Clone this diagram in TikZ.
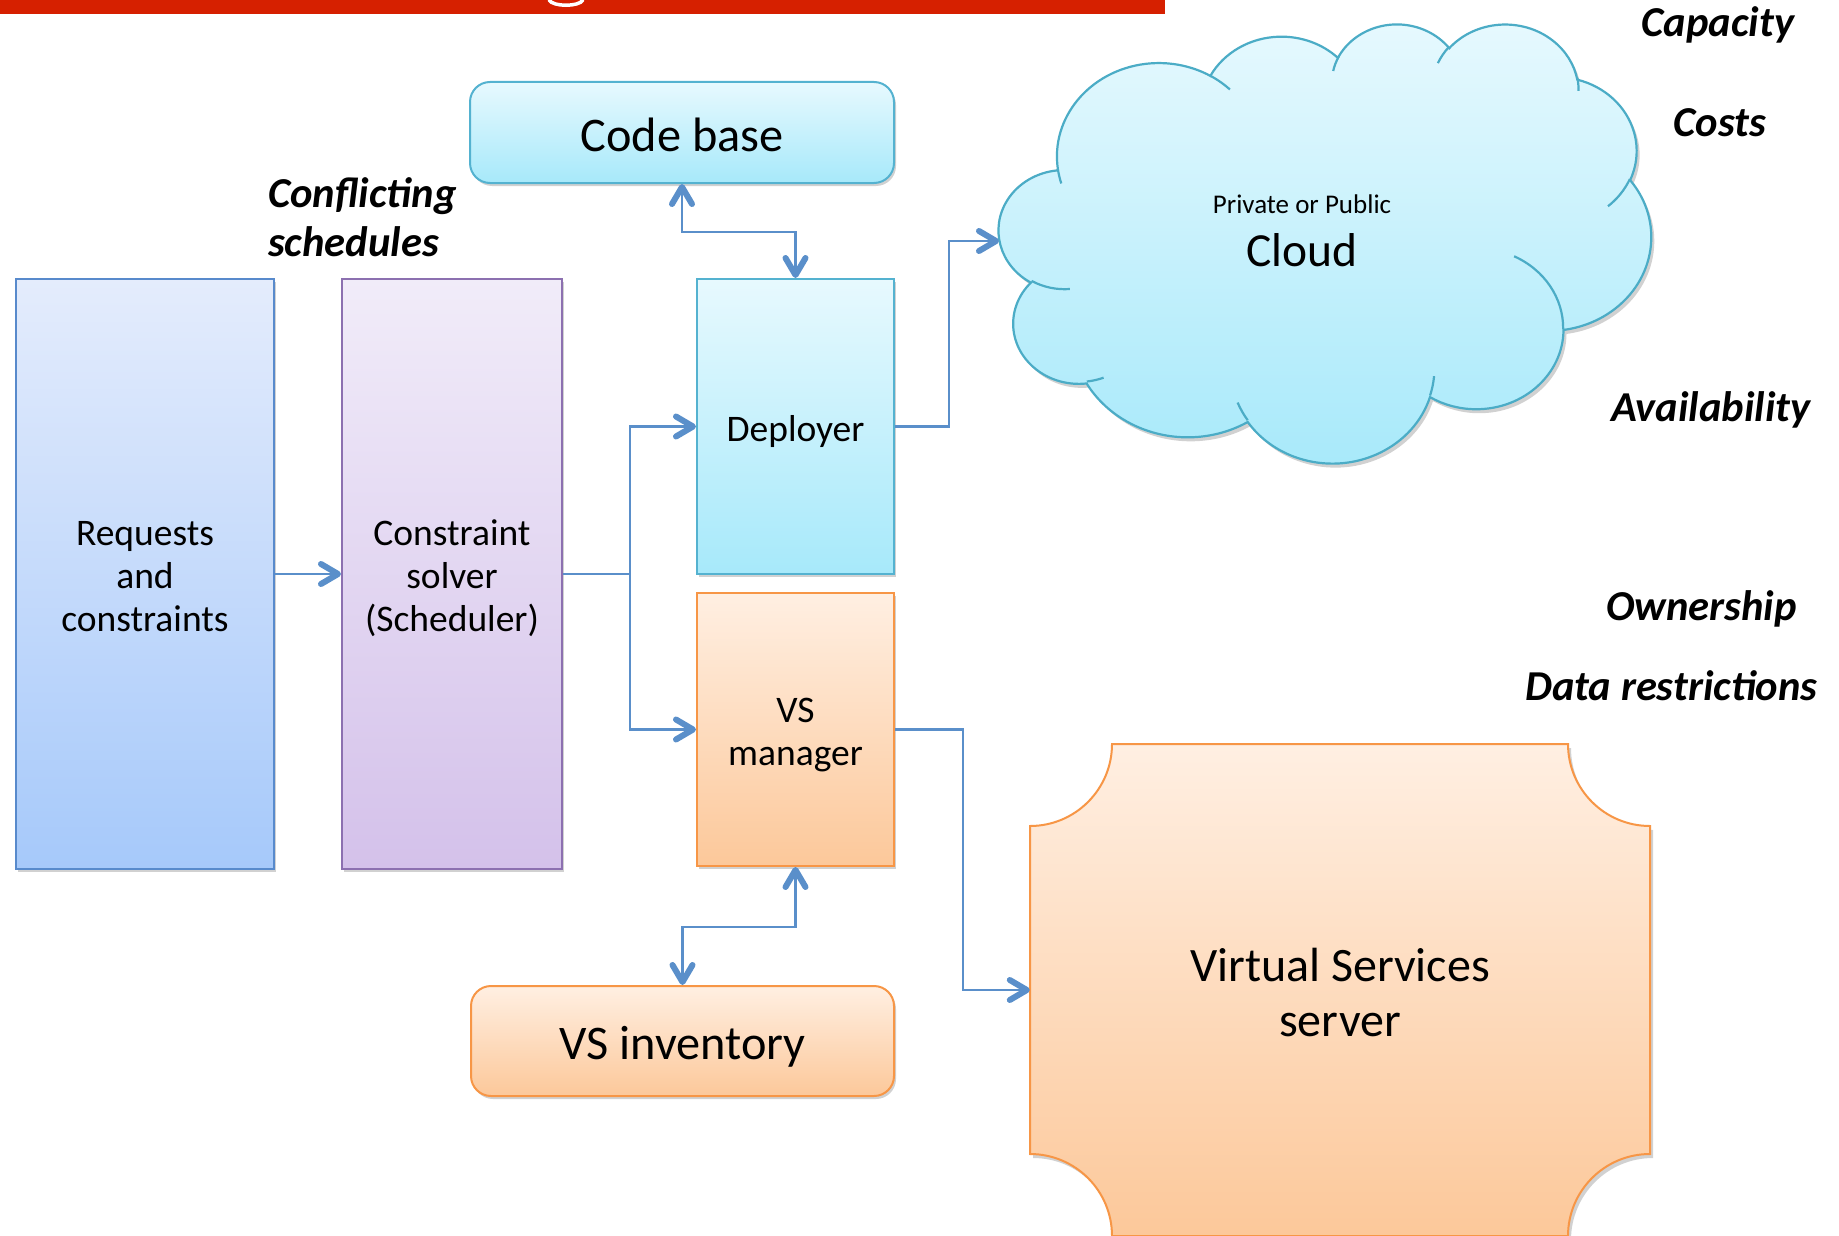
\documentclass[tikz,border=0pt]{standalone}
\usepackage{fontspec}
\setmainfont{Carlito}
\usetikzlibrary{arrows.meta,shadows}
\definecolor{redbar}{RGB}{214,32,0}
\definecolor{arrowc}{RGB}{90,143,202}
\definecolor{blueT}{RGB}{228,236,252}
\definecolor{blueB}{RGB}{166,201,250}
\definecolor{blueD}{RGB}{88,138,204}
\definecolor{purT}{RGB}{241,236,249}
\definecolor{purB}{RGB}{212,193,234}
\definecolor{purD}{RGB}{140,112,176}
\definecolor{aquaT}{RGB}{231,249,254}
\definecolor{aquaB}{RGB}{167,233,250}
\definecolor{aquaD}{RGB}{84,178,208}
\definecolor{cloudD}{RGB}{75,172,198}
\definecolor{orT}{RGB}{255,239,226}
\definecolor{orB}{RGB}{252,200,154}
\definecolor{orD}{RGB}{247,150,70}

\pgfdeclarearrow{
  name = BoldBarb,
  setup code = {
    \pgfarrowssettipend{3pt}
    \pgfarrowssetlineend{-1pt}
    \pgfarrowssetbackend{-20pt}
    \pgfarrowshullpoint{3pt}{0pt}
    \pgfarrowsupperhullpoint{-20pt}{13pt}
  },
  drawing code = {
    \pgfsetdash{}{0pt}
    \pgfsetlinewidth{6pt}
    \pgfsetroundcap
    \pgfsetroundjoin
    \pgfpathmoveto{\pgfqpoint{-17pt}{10pt}}
    \pgfpathlineto{\pgfqpoint{0pt}{0pt}}
    \pgfpathlineto{\pgfqpoint{-17pt}{-10pt}}
    \pgfusepathqstroke
  }
}

\newcommand\cloudpath{}
\newcommand\cloudinner{}
\newcommand\addarc[4]{%
  \pgfmathsetmacro\cldS{atan2((#1)*sin(#3),(#2)*cos(#3))}%
  \pgfmathsetmacro\cldE{atan2((#1)*sin((#3)+(#4)),(#2)*cos((#3)+(#4)))}%
  \pgfmathsetmacro\cldD{mod((\cldE)-(\cldS)+720,360)}%
  \xdef\cloudpath{\cloudpath arc[start angle=\cldS, delta angle=\cldD, x radius=#1, y radius=#2]}%
}
\newcommand\addinner[6]{%
  \pgfmathsetmacro\cldS{atan2((#3)*sin(#5),(#4)*cos(#5))}%
  \pgfmathsetmacro\cldE{atan2((#3)*sin((#5)+(#6)),(#4)*cos((#5)+(#6)))}%
  \pgfmathsetmacro\cldD{mod((\cldE)-(\cldS)+720,360)}%
  \xdef\cloudinner{\cloudinner (#1,#2) arc[start angle=\cldS, delta angle=\cldD, x radius=#3, y radius=#4]}%
}
\newcommand\sA{\rule[-7pt]{0pt}{43pt}}
\newcommand\sB{\rule[-9pt]{0pt}{55pt}}

\tikzset{
  box/.style={draw, line width=2pt, inner sep=0pt, align=center,
    font=\fontsize{37.5}{43}\selectfont,
    drop shadow={shadow xshift=2pt, shadow yshift=-3pt, opacity=0.18, fill=black}},
  bluebox/.style={box, draw=blueD, top color=blueT, bottom color=blueB},
  purbox/.style={box, draw=purD, top color=purT, bottom color=purB},
  aquabox/.style={box, draw=aquaD, top color=aquaT, bottom color=aquaB},
  orbox/.style={box, draw=orD, top color=orT, bottom color=orB},
  bigfont/.style={font=\fontsize{48.3}{55}\selectfont},
  lbl/.style={inner sep=0pt, font=\fontsize{42.6}{48}\selectfont\bfseries\itshape},
  conn/.style={draw=arrowc, line width=2.2pt},
  cloudsty/.style={draw=cloudD, line width=2.2pt, top color=aquaT, bottom color=aquaB,
    drop shadow={shadow xshift=3pt, shadow yshift=-4pt, opacity=0.18, fill=black}},
  cloudline/.style={draw=cloudD, line width=2.2pt}
}

\begin{document}
\begin{tikzpicture}[x=1pt, y=-1pt, >={BoldBarb}]
\useasboundingbox (0,0) rectangle (1839,1236);
\fill[white] (0,0) rectangle (1839,1236);

% title bar fragment
\fill[redbar] (0,0) rectangle (1165,14);
\draw[white, line width=3.5pt, line cap=round] (549,0) .. controls (553,7) and (579,7) .. (583,0);

% cloud (Office cloud geometry, 1/10 units)
\addarc{675.3}{919.0}{-190.48748}{123.78053}
\addarc{533.3}{726.7}{-144.10238}{89.94523}
\addarc{436.5}{594.5}{-145.80792}{99.72302}
\addarc{485.7}{659.5}{-130.98607}{117.24173}
\addarc{533.3}{727.3}{-78.70888}{109.02692}
\addarc{677.5}{922.0}{-46.26725}{130.269}
\addarc{578.5}{786.7}{0.62502}{114.03333}
\addarc{675.2}{921.5}{22.4516}{115.17255}
\addarc{772.0}{1054.3}{66.24263}{75.71102}
\addarc{436.0}{591.8}{-274.94208}{146.73557}
\addarc{434.5}{594.5}{-246.8285}{152.51885}
\addinner{469.3}{2617.7}{434.5}{594.5}{86.742}{26.4295}
\addinner{692.8}{3489.9}{436.0}{591.8}{73.61047}{11.44747}
\addinner{1647.8}{3909.0}{675.2}{921.5}{137.62415}{14.0811}
\addinner{2882.7}{3475.1}{675.2}{921.5}{6.45327}{15.99835}
\addinner{3412.9}{2295.4}{578.5}{786.7}{-70.29235}{70.91737}
\addinner{4179.8}{1535.4}{533.3}{727.3}{30.31803}{27.7515}
\addinner{3832.4}{542.6}{485.7}{659.5}{-13.74433}{14.8589}
\addinner{2907.8}{395.2}{485.7}{659.5}{-149.18145}{18.19537}
\addinner{2214.1}{472.0}{436.5}{594.5}{-163.49427}{17.68635}
\addinner{1400.0}{519.2}{675.3}{919.0}{-66.70695}{12.31935}
\addinner{412.7}{1578.9}{675.3}{919.0}{157.65435}{11.85817}
\begin{scope}[shift={(999,23)}, x=0.150926pt, y=-0.101620pt]
\edef\cldcmd{\noexpand\draw[cloudsty] (390,1437) \cloudpath -- cycle;}
\cldcmd
\edef\cldcmd{\noexpand\draw[cloudline] \cloudinner;}
\cldcmd
\end{scope}
\node[anchor=base, font=\fontsize{27}{30}\selectfont] (priv) at (1302,213) {Private or Public};
\node[anchor=base, font=\fontsize{47.5}{55}\selectfont] (cloudt) at (1302,266) {Cloud};
\coordinate (cloudW) at (999,241);

% Virtual Services server (plate shape)
\draw[draw=orD, line width=2pt, top color=orT, bottom color=orB,
  drop shadow={shadow xshift=3pt, shadow yshift=-4pt, opacity=0.18, fill=black}]
  (1112,744) -- (1568,744) arc[start angle=180, end angle=90, radius=82]
  -- (1650,1154) arc[start angle=270, end angle=180, radius=82]
  -- (1112,1236) arc[start angle=0, end angle=-90, radius=82]
  -- (1030,826) arc[start angle=90, end angle=0, radius=82] -- cycle;
\node[inner sep=0pt, align=center, minimum width=620pt, minimum height=492pt,
  font=\fontsize{48}{55}\selectfont] (srv) at (1340,990) {\sB Virtual Services\\\sB server};

% boxes
\node[bluebox, minimum width=258pt, minimum height=590pt] (req) at (145,574)
  {\sA Requests\\\sA and\\\sA constraints};
\node[purbox, minimum width=220pt, minimum height=590pt] (cs) at (452,574)
  {\sA Constraint\\\sA solver\\\sA (Scheduler)};
\node[aquabox, rounded corners=20pt, minimum width=424pt, minimum height=101pt, bigfont] (code) at (682,132.5)
  {\sB Code base};
\node[aquabox, minimum width=197pt, minimum height=295pt] (dep) at (795.5,426.5)
  {\sA Deployer};
\node[orbox, minimum width=197pt, minimum height=273pt] (vsm) at (795.5,729.5)
  {\sA VS\\\sA manager};
\node[orbox, rounded corners=20pt, minimum width=423pt, minimum height=110pt, bigfont] (inv) at (682.5,1041)
  {\sB VS inventory};

% labels
\node[lbl, anchor=base west] (confA) at (268,207) {Conflicting};
\node[lbl, anchor=base west] (confB) at (268,256) {schedules};
\node[lbl, anchor=base] (capa) at (1718,37) {Capacity};
\node[lbl, anchor=base] (cost) at (1720,137) {Costs};
\node[lbl, anchor=base] (avail) at (1711,421) {Availability};
\node[lbl, anchor=base] (owner) at (1701.5,620) {Ownership};
\node[lbl, anchor=base] (datar) at (1671.5,700) {Data restrictions};

% connectors
\draw[conn,->] (req) -- (cs);
\draw[conn,->] (cs.east) -- ++(67,0) |- (dep.west);
\draw[conn,->] (cs.east) -- ++(67,0) |- (vsm.west);
\draw[conn,<->] (code.south) -- ++(0,48) -| (dep.north);
\draw[conn,->] (dep.east) -- ++(54,0) |- (cloudW);
\draw[conn,<->] (vsm.south) -- ++(0,60) -| (inv.north);
\draw[conn,->] (vsm.east) -- ++(68,0) |- (srv.west);
\end{tikzpicture}
\end{document}
